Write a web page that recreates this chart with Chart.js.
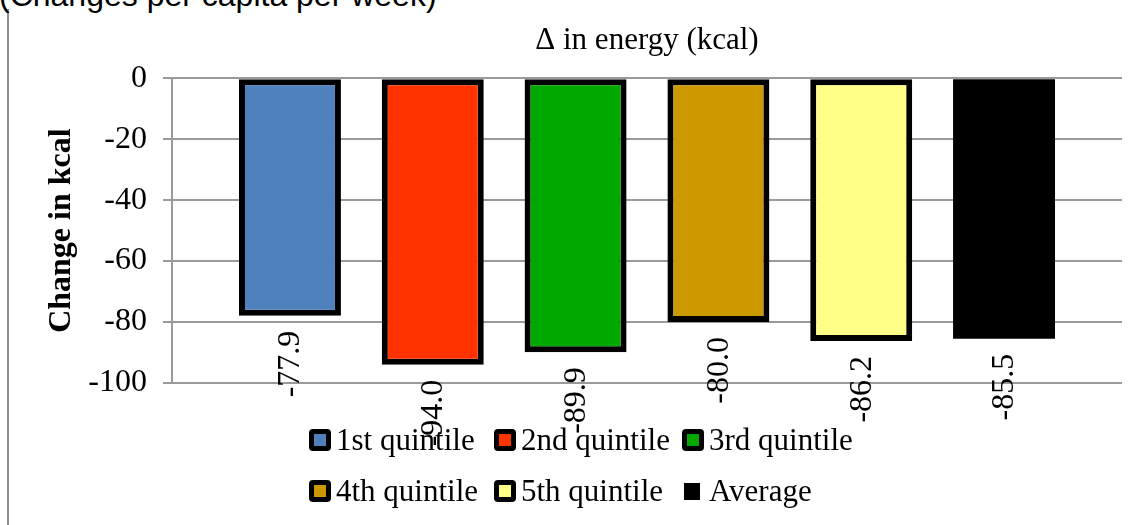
<!DOCTYPE html>
<html lang="en">
<head>
<meta charset="UTF-8">
<title>Change in energy</title>
<script src="https://cdn.jsdelivr.net/npm/chart.js"></script>
<style>
  body { margin: 0; background: #fff; }
  .box { position: relative; width: 1144px; height: 525px; overflow: hidden; }
  .frame { position: absolute; left: 7px; top: 9px; width: 0; height: 520px; border-left: 2px solid #8c8c8c; }
  .note { position: absolute; left: -1px; top: -21px; font-family: "Liberation Sans", Arial, sans-serif; font-size: 32px; line-height: 32px; color: #000; white-space: nowrap; }
  canvas { position: absolute; left: 0; top: 0; }
</style>
</head>
<body>
<div class="box">
  <div class="frame"></div>
  <div class="note">(Changes per capita per week)</div>
  <canvas id="grafico" width="1144" height="525"></canvas>
</div>
<script>
// series (one bar each)
var series = ['1st quintile', '2nd quintile', '3rd quintile', '4th quintile', '5th quintile', 'Average'];
var valores = [-77.9, -94.0, -89.9, -80.0, -86.2, -85.5];
var cores = ['#4F81BD', '#FF3300', '#00A800', '#CC9900', '#FFFF88', '#000000'];
var yTicks = [0, -20, -40, -60, -80, -100];

var fonte = '"Liberation Serif", "Times New Roman", serif';

var datasets = [];
for (var i = 0; i < series.length; i++) {
    datasets.push({
        label: series[i],
        data: [valores[i]],
        backgroundColor: cores[i],
        borderColor: '#000000',
        borderWidth: i == 5 ? 0 : 6,
        borderSkipped: false
    });
}

// rotated value labels under each bar
const rotuloValores = {
    id: 'rotuloValores',
    afterDatasetsDraw(chart) {
        const ctx = chart.ctx;
        ctx.save();
        ctx.font = '32px ' + fonte;
        ctx.fillStyle = '#000';
        ctx.textAlign = 'right';
        ctx.textBaseline = 'middle';
        chart.data.datasets.forEach(function (ds, i) {
            const bar = chart.getDatasetMeta(i).data[0];
            ctx.save();
            ctx.translate(bar.x + 1, bar.y + 15);
            ctx.rotate(-Math.PI / 2);
            ctx.fillText(ds.data[0].toFixed(1), 0, 0);
            ctx.restore();
        });
        ctx.restore();
    }
};

// legend in two rows of three
const legenda = {
    id: 'legenda',
    afterDraw(chart) {
        const ctx = chart.ctx;
        const colX = [309, 494, 682];
        ctx.save();
        ctx.font = '31px ' + fonte;
        ctx.textBaseline = 'alphabetic';
        ctx.textAlign = 'left';
        chart.data.datasets.forEach(function (ds, i) {
            const col = i % 3, row = Math.floor(i / 3);
            const x = colX[col];
            const y = 429 + row * 51;
            if (i == 5) {
                ctx.fillStyle = '#000';
                ctx.fillRect(x + 2, y + 3, 16, 17);
            } else {
                ctx.fillStyle = '#000';
                ctx.beginPath();
                ctx.roundRect(x, y, 22, 22, 4);
                ctx.fill();
                ctx.fillStyle = ds.backgroundColor;
                ctx.fillRect(x + 5, y + 5, 12, 12);
            }
            ctx.fillStyle = '#000';
            ctx.fillText(ds.label, x + 27, y + 21);
        });
        ctx.restore();
    }
};

new Chart(document.getElementById('grafico'), {
    type: 'bar',
    data: { labels: [''], datasets: datasets },
    options: {
        responsive: false,
        animation: false,
        layout: { padding: { left: 43, right: 22, top: 0, bottom: 142 } },
        datasets: { bar: { categoryPercentage: 0.902, barPercentage: 0.714 } },
        plugins: {
            legend: { display: false },
            tooltip: { enabled: false },
            title: {
                display: true,
                text: 'Δ in energy (kcal)',
                fullSize: false,
                color: '#000',
                font: { family: fonte, size: 31, weight: 'normal' },
                padding: { top: 22, bottom: 19 }
            }
        },
        scales: {
            x: { display: false },
            y: {
                min: -100,
                max: 0,
                afterFit: function (s) { s.width = 129; },
                afterBuildTicks: function (s) { s.ticks = yTicks.map(function (v) { return { value: v }; }); },
                grid: { color: '#9a9a9a', lineWidth: 2, tickLength: 9, drawTicks: true },
                border: { color: '#9a9a9a', width: 2 },
                ticks: { color: '#000', padding: 16, font: { family: fonte, size: 32 } },
                title: {
                    display: true,
                    text: 'Change in kcal',
                    color: '#000',
                    padding: 0,
                    font: { family: fonte, size: 32, weight: 'bold' }
                }
            }
        }
    },
    plugins: [rotuloValores, legenda]
});
</script>
</body>
</html>
